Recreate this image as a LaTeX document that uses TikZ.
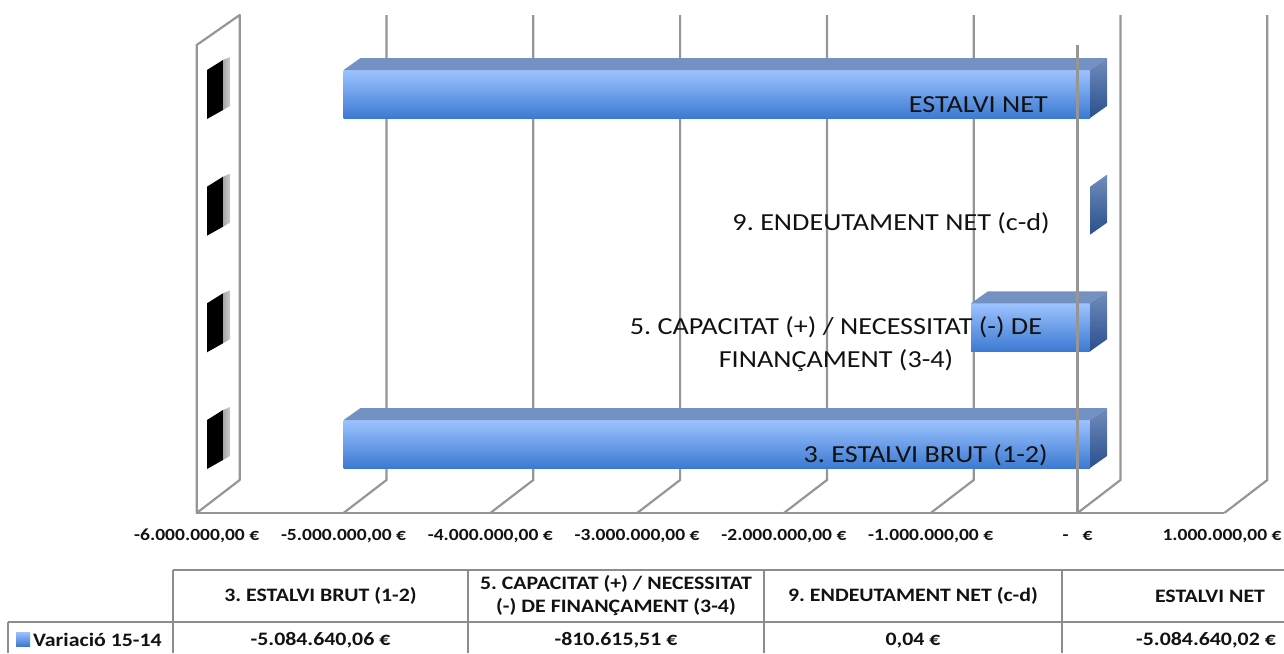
\documentclass[tikz,border=0pt]{standalone}
\usepackage{fontspec}
\setmainfont{Carlito}
\newfontfamily\xf[FakeStretch=1.15]{Carlito}
\frenchspacing
\definecolor{gridc}{RGB}{150,150,150}
\definecolor{tabc}{RGB}{140,140,140}
\definecolor{barA}{RGB}{157,195,255}
\definecolor{barB}{RGB}{60,122,210}
\definecolor{lidc}{RGB}{116,145,196}
\definecolor{endA}{RGB}{112,140,188}
\definecolor{endB}{RGB}{42,80,142}
\definecolor{txt}{RGB}{18,18,18}
\tikzset{
  gridline/.style={draw=gridc,line width=2.2pt},
  tabline/.style={draw=tabc,line width=2.2pt},
  barlabel/.style={font=\xf\fontsize{24.5}{33}\selectfont,text=txt,inner sep=0pt},
  axislabel/.style={font=\xf\bfseries\fontsize{17}{20}\selectfont,text=txt,inner sep=0pt,anchor=base},
  tabtext/.style={font=\xf\bfseries\fontsize{19}{23}\selectfont,text=txt,inner sep=0pt,align=center},
}
\newcommand\mybar[3]{% #1 value (millions), #2 top y, #3 name
  \shade[top color=barA,bottom color=barB] ({1090+146.8*(#1)},#2) rectangle (1090,{#2+48});
  \fill[lidc] ({1090+146.8*(#1)},#2) -- ({1107+146.8*(#1)},{#2-12}) -- (1107,{#2-12}) -- (1090,#2) -- cycle;
  \shade[top color=endA,bottom color=endB] (1090,#2) -- (1107,{#2-12}) -- (1107,{#2+36}) -- (1090,{#2+48}) -- cycle;
  \coordinate (#3) at (1090,#2);
}
\newcommand\wallmark[1]{%
  \fill[black] (207,#1) -- (223,{#1-10}) -- (223,{#1+40}) -- (207,{#1+49}) -- cycle;
  \shade[left color=gray!70,right color=gray!40] (223,{#1-10}) -- (230,{#1-13}) -- (230,{#1+36}) -- (223,{#1+40}) -- cycle;
}
\begin{document}
\begin{tikzpicture}[x=1pt,y=-1pt]
\useasboundingbox (0,0) rectangle (1284,653);
% back grid lines with floor diagonals
\foreach \v in {-5,...,1}{
  \draw[gridline] ({1120.5+146.8*\v},15) -- ({1120.5+146.8*\v},480) -- ({1077.5+146.8*\v},513);
}
% left wall
\draw[gridline,line join=round] (196.7,45) -- (239.7,15) -- (239.7,480) -- (196.7,513) -- cycle;
% floor front edge
\draw[gridline] (196.7,513) -- (1224.3,513);
% wall marks
\foreach \t in {70,186.7,303.3,420}{\wallmark{\t}}
% bars
\mybar{-5.08464002}{70}{b4}
\shade[top color=endA,bottom color=endB] (1090,186.7) -- (1107,174.7) -- (1107,222.7) -- (1090,234.7) -- cycle;
\coordinate (b3) at (1090,186.7);
\mybar{-0.81061551}{303.3}{b2}
\mybar{-5.08464006}{420}{b1}
% zero line in front
\draw[gridline] (1077.5,45) -- (1077.5,513);
% bar labels
\node[barlabel,anchor=base east] (l4) at (1048,112) {ESTALVI NET};
\node[barlabel,anchor=base east] (l3) at (1050,230) {9. ENDEUTAMENT NET (c-d)};
\node[barlabel,align=center,anchor=center] (l2) at (836,344) {5. CAPACITAT (+) / NECESSITAT (-) DE\\FINANÇAMENT (3-4)};
\node[barlabel,anchor=base east] (l1) at (1048,462) {3. ESTALVI BRUT (1-2)};
% axis labels
\node[axislabel] (a6) at (196.7,540) {-6.000.000,00 €};
\node[axislabel] (a5) at (343.5,540) {-5.000.000,00 €};
\node[axislabel] (a4) at (490.3,540) {-4.000.000,00 €};
\node[axislabel] (a3) at (637.1,540) {-3.000.000,00 €};
\node[axislabel] (a2) at (783.9,540) {-2.000.000,00 €};
\node[axislabel] (a1) at (930.7,540) {-1.000.000,00 €};
\node[axislabel] (a0) at (1077.5,540) {-\hspace{14pt}€};
\node[axislabel] (ap) at (1222,540) {1.000.000,00 €};
% table
\draw[tabline] (173,570) -- (1284,570);
\draw[tabline] (8,622) -- (1284,622);
\draw[tabline] (8,622) -- (8,653);
\foreach \x in {173,468,764,1062}{\draw[tabline] (\x,570) -- (\x,653);}
\node[tabtext] (h1) at (320.5,596) {3. ESTALVI BRUT (1-2)};
\node[tabtext] (h2) at (616,596) {5. CAPACITAT (+) / NECESSITAT\\(-) DE FINANÇAMENT (3-4)};
\node[tabtext] (h3) at (913,596) {9. ENDEUTAMENT NET (c-d)};
\node[tabtext] (h4) at (1210,596) {ESTALVI NET};
\shade[top color=barA,bottom color=barB] (16,632) rectangle (30,646);
\node[tabtext,anchor=base west] (lg) at (33,646) {Variació 15-14};
\node[tabtext,anchor=base] (v1) at (320.5,645) {-5.084.640,06 €};
\node[tabtext,anchor=base] (v2) at (616,645) {-810.615,51 €};
\node[tabtext,anchor=base] (v3) at (913,645) {0,04 €};
\node[tabtext,anchor=base] (v4) at (1206,645) {-5.084.640,02 €};
\end{tikzpicture}
\end{document}
